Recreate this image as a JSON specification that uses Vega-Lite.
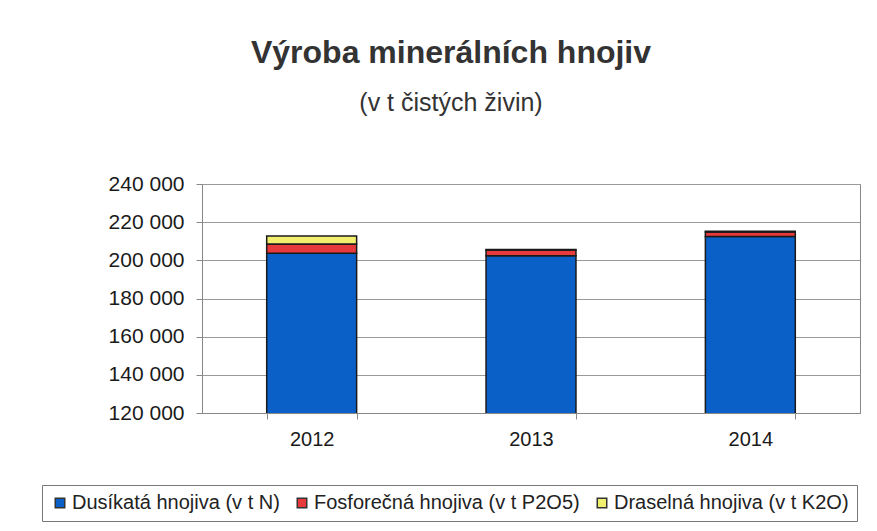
{
  "$schema": "https://vega.github.io/schema/vega-lite/v6.json",
  "width": 658,
  "height": 229,
  "autosize": {"type": "none"},
  "padding": {"left": 202, "top": 184, "right": 17, "bottom": 118},
  "background": "white",
  "title": {
    "text": "Výroba minerálních hnojiv",
    "subtitle": "(v t čistých živin)",
    "anchor": "middle",
    "dx": -80,
    "offset": 56,
    "font": "Liberation Sans",
    "fontSize": 32,
    "fontWeight": "bold",
    "color": "#333333",
    "subtitleFont": "Liberation Sans",
    "subtitleFontSize": 25,
    "subtitleColor": "#333333",
    "subtitlePadding": 21
  },
  "data": {
    "values": [
      {"year": "2012", "type": "Dusíkatá hnojiva (v t N)", "ord": 1, "value": 203700},
      {"year": "2012", "type": "Fosforečná hnojiva (v t P2O5)", "ord": 2, "value": 4900},
      {"year": "2012", "type": "Draselná hnojiva (v t K2O)", "ord": 3, "value": 4200},
      {"year": "2013", "type": "Dusíkatá hnojiva (v t N)", "ord": 1, "value": 202400},
      {"year": "2013", "type": "Fosforečná hnojiva (v t P2O5)", "ord": 2, "value": 3000},
      {"year": "2013", "type": "Draselná hnojiva (v t K2O)", "ord": 3, "value": 300},
      {"year": "2014", "type": "Dusíkatá hnojiva (v t N)", "ord": 1, "value": 212500},
      {"year": "2014", "type": "Fosforečná hnojiva (v t P2O5)", "ord": 2, "value": 2400},
      {"year": "2014", "type": "Draselná hnojiva (v t K2O)", "ord": 3, "value": 300}
    ]
  },
  "mark": {"type": "bar", "stroke": "#1a1a1a", "strokeWidth": 1.5, "clip": true},
  "encoding": {
    "x": {
      "field": "year",
      "type": "nominal",
      "scale": {"paddingInner": 0.59, "paddingOuter": 0.295},
      "axis": {
        "title": null,
        "labelAngle": 0,
        "labelFont": "Liberation Sans",
        "labelFontSize": 20,
        "labelColor": "#1a1a1a",
        "labelPadding": 10,
        "tickBand": "extent",
        "tickSize": 6,
        "tickColor": "#888888",
        "domainColor": "#888888",
        "grid": false
      }
    },
    "y": {
      "field": "value",
      "type": "quantitative",
      "stack": "zero",
      "scale": {"domain": [120000, 240000], "nice": false, "zero": false},
      "axis": {
        "title": null,
        "values": [120000, 140000, 160000, 180000, 200000, 220000, 240000],
        "labelExpr": "replace(format(datum.value, ','), ',', ' ')",
        "labelFont": "Liberation Sans",
        "labelFontSize": 21,
        "labelColor": "#1a1a1a",
        "labelPadding": 12,
        "tickSize": 6,
        "tickColor": "#888888",
        "domainColor": "#888888",
        "gridColor": "#999999",
        "gridOpacity": 1
      }
    },
    "color": {
      "field": "type",
      "type": "nominal",
      "sort": ["Dusíkatá hnojiva (v t N)", "Fosforečná hnojiva (v t P2O5)", "Draselná hnojiva (v t K2O)"],
      "scale": {
        "domain": ["Dusíkatá hnojiva (v t N)", "Fosforečná hnojiva (v t P2O5)", "Draselná hnojiva (v t K2O)"],
        "range": ["#0b60c8", "#e8393c", "#f2ee6e"]
      },
      "legend": {
        "orient": "none",
        "legendX": -160,
        "legendY": 301,
        "direction": "horizontal",
        "columns": 3,
        "title": null,
        "symbolType": "square",
        "symbolSize": 90,
        "symbolStrokeColor": "#333333",
        "symbolStrokeWidth": 1.5,
        "labelFont": "Liberation Sans",
        "labelFontSize": 20,
        "labelColor": "#222222",
        "labelOffset": 2,
        "labelLimit": 400,
        "strokeColor": "#777777",
        "fillColor": "white",
        "padding": 8,
        "columnPadding": 12
      }
    },
    "order": {"field": "ord", "type": "quantitative"}
  },
  "config": {
    "view": {"stroke": "#888888", "strokeWidth": 1}
  }
}
